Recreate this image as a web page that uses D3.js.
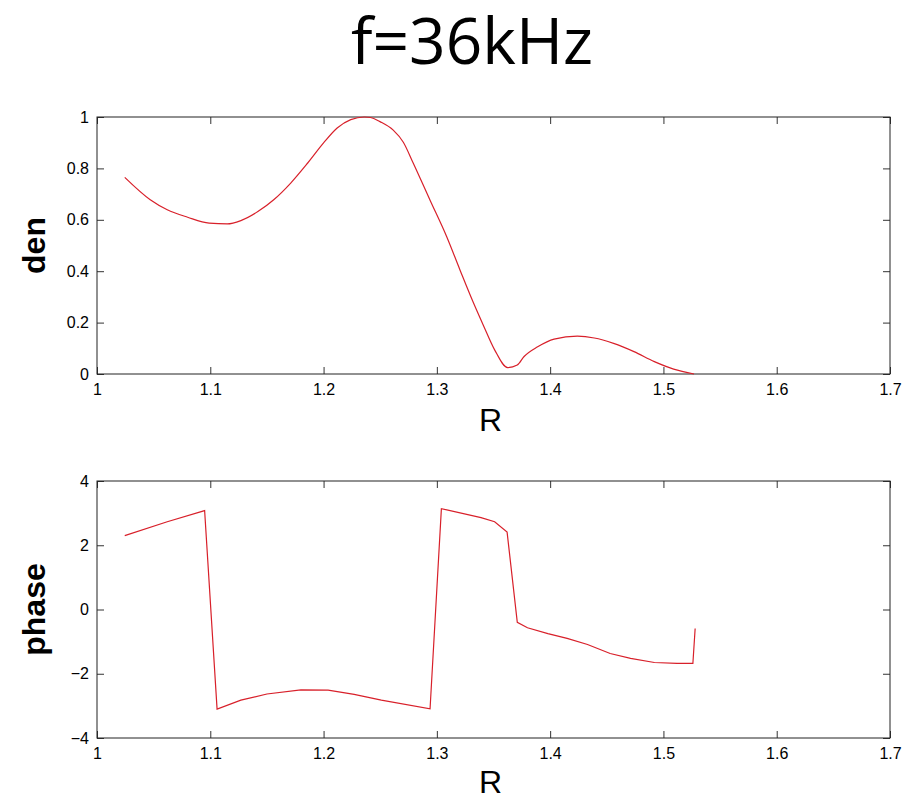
<!DOCTYPE html>
<html><head><meta charset="utf-8">
<script src="https://cdn.jsdelivr.net/npm/d3@7"></script>
<style>
body{margin:0;background:#fff;}
svg text{font-family:"Liberation Sans",Arial,sans-serif;}
</style></head>
<body><svg id="c" width="911" height="800"></svg>
<script>
const title = "f=36kHz";
const denR   = [1.0245,1.047,1.062,1.080,1.099,1.115,1.127,1.142,1.156,1.171,1.186,1.200,1.212,1.224,1.236,1.2415,1.2498,1.2615,1.2704,1.279,1.2939,1.3087,1.3204,1.332,1.341,1.351,1.3625,1.371,1.377,1.389,1.4035,1.424,1.439,1.456,1.474,1.492,1.509,1.527];
const denVal = [0.765,0.678,0.639,0.610,0.587,0.584,0.597,0.632,0.678,0.743,0.821,0.899,0.957,0.990,1.000,0.998,0.982,0.949,0.902,0.822,0.677,0.534,0.405,0.280,0.190,0.094,0.025,0.035,0.068,0.106,0.136,0.147,0.140,0.119,0.087,0.048,0.019,0.000];
const phaseR   = [1.0245,1.062,1.095,1.106,1.127,1.150,1.180,1.204,1.227,1.251,1.294,1.304,1.339,1.351,1.362,1.371,1.380,1.398,1.415,1.433,1.453,1.471,1.492,1.512,1.526,1.528];
const phaseVal = [2.30,2.73,3.08,-3.10,-2.82,-2.63,-2.50,-2.51,-2.64,-2.82,-3.09,3.14,2.86,2.73,2.41,-0.40,-0.57,-0.75,-0.90,-1.09,-1.37,-1.52,-1.65,-1.68,-1.68,-0.59];
const xTicks = [1,1.1,1.2,1.3,1.4,1.5,1.6,1.7];
const denTicks = [0,0.2,0.4,0.6,0.8,1];
const phaseTicks = [-4,-2,0,2,4];

const svg = d3.select("#c");
svg.append("text").attr("x",472).attr("y",64).attr("text-anchor","middle")
  .style("font-family","'Open Sans',sans-serif").style("font-size","64px").attr("fill","#000").text(title);

const L=97, R=890;
const x = d3.scaleLinear().domain([1,1.7]).range([L,R]);

function panel(top,bottom,yDomain,yTicks,fmt,xs,ys,ylabel,curve,rOff){
  const y = d3.scaleLinear().domain(yDomain).range([bottom,top]);
  const g = svg.append("g");
  const tl=7;
  g.append("g").attr("transform",`translate(0,${bottom})`)
    .call(d3.axisBottom(x).tickValues(xTicks).tickFormat(d=>d3.format("")(d)).tickSizeInner(-tl).tickSizeOuter(0).tickPadding(10));
  g.append("g").attr("transform",`translate(0,${top})`)
    .call(d3.axisTop(x).tickValues(xTicks).tickFormat("").tickSizeInner(-tl).tickSizeOuter(0));
  g.append("g").attr("transform",`translate(${L},0)`)
    .call(d3.axisLeft(y).tickValues(yTicks).tickFormat(fmt).tickSizeInner(-tl).tickSizeOuter(0).tickPadding(8));
  g.append("g").attr("transform",`translate(${R},0)`)
    .call(d3.axisRight(y).tickValues(yTicks).tickFormat("").tickSizeInner(-tl).tickSizeOuter(0));
  g.selectAll(".domain").remove();
  g.selectAll(".tick line").attr("stroke","#333");
  g.selectAll(".tick text").style("font-size","16px").attr("fill","#000");
  g.append("rect").attr("x",L).attr("y",top).attr("width",R-L).attr("height",bottom-top)
    .attr("fill","none").attr("stroke","#222").attr("stroke-width",1);
  const data = xs.map((d,i)=>[d,ys[i]]);
  g.append("path").datum(data).attr("fill","none").attr("stroke","#d8202a").attr("stroke-width",1.2)
    .attr("d",d3.line().x(d=>x(d[0])).y(d=>y(d[1])).curve(curve));
  g.append("text").attr("transform",`translate(45,${(top+bottom)/2}) rotate(-90)`)
    .attr("text-anchor","middle").style("font-size","32px").style("font-weight","bold").attr("fill","#000").text(ylabel);
  g.append("text").attr("x",(L+R)/2-3).attr("y",bottom+rOff).attr("text-anchor","middle")
    .style("font-size","32px").attr("fill","#000").text("R");
}
panel(117,374,[0,1],denTicks,d=>d3.format("")(d),denR,denVal,"den",d3.curveMonotoneX,57);
panel(481,738,[-4,4],phaseTicks,d=>d3.format("")(d),phaseR,phaseVal,"phase",d3.curveLinear,55);
</script></body></html>
